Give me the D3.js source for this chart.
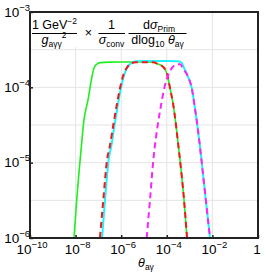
<!DOCTYPE html>
<html>
<head>
<meta charset="utf-8">
<script src="https://cdn.jsdelivr.net/npm/d3@7"></script>
<style>
  body { margin: 0; background: #fff; }
  text { font-family: "Liberation Sans", Arial, sans-serif; fill: #000; }
</style>
</head>
<body>
<svg id="chart" width="266" height="274"></svg>
<script>
"use strict";

// curves: theta_ay and the normalised cross-section
var greenTheta = [8.5e-9, 1.12e-8, 1.73e-8, 2.33e-8, 3.5e-8, 5.2e-8, 6.4e-8, 8.7e-8, 1.2e-7, 3e-7, 1e-6, 1e-5,
                  2.5e-5, 4.1e-5, 6.8e-5, 1.05e-4, 1.38e-4, 1.93e-4, 2.53e-4, 3.19e-4, 3.8e-4, 5.7e-4, 7.7e-4];
var greenValue = [1.0e-6, 3.2e-6, 1.47e-5, 3.7e-5, 6.8e-5, 1.37e-4, 1.81e-4, 2.04e-4, 2.13e-4, 2.16e-4, 2.17e-4, 2.17e-4,
                  2.15e-4, 2.04e-4, 1.88e-4, 1.46e-4, 9.8e-5, 5.8e-5, 3.16e-5, 1.71e-5, 1.08e-5, 3.2e-6, 1.0e-6];

var cyanTheta = [1.45e-7, 1.95e-7, 2.8e-7, 3.75e-7, 5.1e-7, 7.1e-7, 9.8e-7, 1.35e-6, 1.9e-6, 3.1e-6, 5e-6, 1e-5,
                 1e-4, 3.1e-4, 4.2e-4, 6.3e-4, 9e-4, 1.24e-3, 1.64e-3, 2.18e-3, 2.8e-3, 3.32e-3, 5.14e-3, 7.85e-3];
var cyanValue = [1.0e-6, 3.2e-6, 1.08e-5, 1.71e-5, 3.16e-5, 5.8e-5, 9.8e-5, 1.46e-4, 1.85e-4, 2.15e-4, 2.22e-4, 2.23e-4,
                 2.23e-4, 2.22e-4, 2.15e-4, 1.70e-4, 1.33e-4, 9.8e-5, 5.8e-5, 3.16e-5, 1.71e-5, 1.08e-5, 3.2e-6, 1.0e-6];

var redTheta = [1.17e-7, 1.64e-7, 2.38e-7, 3.23e-7, 4.5e-7, 6.35e-7, 8.9e-7, 1.24e-6, 1.74e-6, 2.9e-6, 4.5e-6, 1e-5,
                2.5e-5, 4.1e-5, 6.8e-5, 1.05e-4, 1.38e-4, 1.93e-4, 2.53e-4, 3.19e-4, 3.8e-4, 5.7e-4, 7.7e-4];
var redValue = [1.0e-6, 3.2e-6, 1.08e-5, 1.71e-5, 3.16e-5, 5.8e-5, 9.8e-5, 1.46e-4, 1.81e-4, 2.10e-4, 2.15e-4, 2.16e-4,
                2.15e-4, 2.04e-4, 1.88e-4, 1.46e-4, 9.8e-5, 5.8e-5, 3.16e-5, 1.71e-5, 1.08e-5, 3.2e-6, 1.0e-6];

var magentaTheta = [1.31e-5, 1.83e-5, 2.56e-5, 4.0e-5, 5.6e-5, 7.8e-5, 1.16e-4, 1.69e-4, 2.7e-4, 3.8e-4, 5.3e-4,
                    9e-4, 1.24e-3, 1.64e-3, 2.18e-3, 2.8e-3, 3.32e-3, 5.14e-3, 7.85e-3];
var magentaValue = [1.0e-6, 3.2e-6, 1.08e-5, 3.16e-5, 5.8e-5, 9.8e-5, 1.46e-4, 1.81e-4, 2.02e-4, 2.02e-4, 1.75e-4,
                    1.33e-4, 9.8e-5, 5.8e-5, 3.16e-5, 1.71e-5, 1.08e-5, 3.2e-6, 1.0e-6];

// axis decades
var xTickExp = [-10, -8, -6, -4, -2, 0];
var yTickExp = [-3, -4, -5, -6];
var xGridExp = [-8, -6, -4, -2];
var yGridExp = [-3.5, -4, -4.5, -5, -5.5];

var width = 266, height = 274;
var margin = {top: 12, right: 8, bottom: 36, left: 30};

var svg = d3.select("#chart");

var x = d3.scaleLog()
  .domain([1e-10, 1])
  .range([margin.left, width - margin.right]);

var y = d3.scaleLog()
  .domain([1e-6, 1e-3])
  .range([height - margin.bottom, margin.top]);

svg.append("clipPath")
  .attr("id", "plot-clip")
.append("rect")
  .attr("x", margin.left)
  .attr("y", margin.top)
  .attr("width", x.range()[1] - x.range()[0])
  .attr("height", y.range()[0] - y.range()[1]);

// grid
svg.append("g")
  .attr("class", "grid")
  .selectAll("line.v")
  .data(xGridExp)
  .enter().append("line")
    .attr("x1", function(d) { return x(Math.pow(10, d)); })
    .attr("x2", function(d) { return x(Math.pow(10, d)); })
    .attr("y1", y.range()[1])
    .attr("y2", y.range()[0])
    .style("stroke", "#e4e4e4")
    .style("stroke-width", 1);

svg.select(".grid")
  .selectAll("line.h")
  .data(yGridExp)
  .enter().append("line")
    .attr("class", "h")
    .attr("x1", x.range()[0])
    .attr("x2", x.range()[1])
    .attr("y1", function(d) { return y(Math.pow(10, d)); })
    .attr("y2", function(d) { return y(Math.pow(10, d)); })
    .style("stroke", "#e4e4e4")
    .style("stroke-width", 1);

// curves
var line = d3.line()
  .x(function(d) { return x(d[0]); })
  .y(function(d) { return y(d[1]); })
  .curve(d3.curveMonotoneX);

var series = [
  {theta: greenTheta, value: greenValue, color: "#1ef01e", width: 1.6, dash: null},
  {theta: cyanTheta, value: cyanValue, color: "#22f0f8", width: 2, dash: null},
  {theta: redTheta, value: redValue, color: "#f01818", width: 2, dash: "6,4"},
  {theta: magentaTheta, value: magentaValue, color: "#f826f8", width: 2, dash: "6,4"}
];

svg.append("g")
  .attr("clip-path", "url(#plot-clip)")
  .selectAll("path")
  .data(series)
  .enter().append("path")
    .attr("d", function(s) { return line(d3.zip(s.theta, s.value)); })
    .style("fill", "none")
    .style("stroke", function(s) { return s.color; })
    .style("stroke-width", function(s) { return s.width; })
    .style("stroke-dasharray", function(s) { return s.dash; });

// formula box
var formula = svg.append("g").attr("class", "formula");
formula.append("rect")
  .attr("x", margin.left + 1)
  .attr("y", margin.top + 1)
  .attr("width", 160)
  .attr("height", 34)
  .style("fill", "#fff");

function addText(g, xPos, yPos, parts, anchor) {
  var t = g.append("text")
    .attr("x", xPos)
    .attr("y", yPos)
    .style("font-size", "12.5px")
    .style("text-anchor", anchor || "middle");
  parts.forEach(function(p) {
    var ts = t.append("tspan").text(p.t);
    if (p.i) ts.style("font-style", "italic");
    if (p.s) ts.style("font-size", "8.5px");
    if (p.dy) ts.attr("dy", p.dy);
    if (p.dx) ts.attr("dx", p.dx);
  });
  return t;
}

function addBar(g, x1, x2, yPos) {
  g.append("line")
    .attr("x1", x1).attr("x2", x2)
    .attr("y1", yPos).attr("y2", yPos)
    .style("stroke", "#000")
    .style("stroke-width", 1);
}

var numY = 28.5, barY = 33.5, denY = 44;

addBar(formula, 32, 77, barY);
addText(formula, 54.5, numY, [{t: "1 GeV"}, {t: "\u22122", s: 1, dy: -5}]);
addText(formula, 54, denY, [{t: "g", i: 1}, {t: "a\u03b3\u03b3", s: 1, dy: 3}, {t: "2", s: 1, dy: -9}]);

addText(formula, 88.5, 37, [{t: "\u00d7"}]);

addBar(formula, 98.5, 125, barY);
addText(formula, 111.5, numY, [{t: "1"}]);
addText(formula, 111.5, denY, [{t: "\u03c3", i: 1}, {t: "conv", s: 1, dy: 3}]);

addBar(formula, 128.5, 186.5, barY);
addText(formula, 159, numY, [{t: "d"}, {t: "\u03c3", i: 1}, {t: "Prim", s: 1, dy: 3}]);
addText(formula, 157.5, denY, [{t: "dlog"}, {t: "10", s: 1, dy: 3}, {t: " ", dy: -3}, {t: "\u03b8", i: 1}, {t: "a\u03b3", s: 1, dy: 3}]);

// ticks
svg.append("g")
  .attr("transform", "translate(0," + y.range()[0] + ")")
  .call(d3.axisBottom(x)
    .tickValues(xTickExp.map(function(e) { return Math.pow(10, e); }))
    .tickSizeInner(-3).tickSizeOuter(0).tickFormat(""))
  .call(function(g) { g.select(".domain").remove(); })
  .selectAll("line").style("stroke", "#222").style("stroke-width", 1.5);

svg.append("g")
  .attr("transform", "translate(" + x.range()[0] + ",0)")
  .call(d3.axisLeft(y)
    .tickValues(yTickExp.map(function(e) { return Math.pow(10, e); }))
    .tickSizeInner(-3).tickSizeOuter(0).tickFormat(""))
  .call(function(g) { g.select(".domain").remove(); })
  .selectAll("line").style("stroke", "#222").style("stroke-width", 1.5);

// frame
svg.append("rect")
  .attr("x", x.range()[0])
  .attr("y", y.range()[1])
  .attr("width", x.range()[1] - x.range()[0])
  .attr("height", y.range()[0] - y.range()[1])
  .style("fill", "none")
  .style("stroke", "#222")
  .style("stroke-width", 2);

// tick labels
function powerLabel(g, xPos, yPos, e, anchor) {
  var t = g.append("text")
    .attr("x", xPos)
    .attr("y", yPos)
    .style("font-size", "13.5px")
    .style("text-anchor", anchor);
  if (e === 0) {
    t.text("1");
    return t;
  }
  t.append("tspan").text("10");
  t.append("tspan")
    .attr("dy", -6)
    .style("font-size", "9.5px")
    .text("\u2212" + Math.abs(e));
  return t;
}

var xLabels = svg.append("g");
xTickExp.forEach(function(e) {
  powerLabel(xLabels, x(Math.pow(10, e)) + (e === 0 ? -1 : 2), 253.5, e, "middle");
});

var yLabels = svg.append("g");
yTickExp.forEach(function(e) {
  powerLabel(yLabels, 30, y(Math.pow(10, e)) + 4.5, e, "end");
});

// x axis title
addText(svg, 146, 267, [{t: "\u03b8", i: 1}, {t: "a\u03b3", s: 1, dy: 3}]);
</script>
</body>
</html>
